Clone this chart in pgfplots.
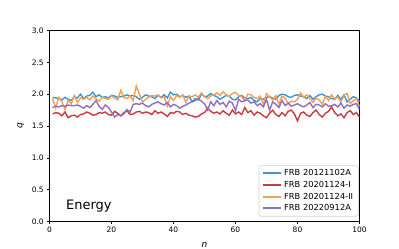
\documentclass[border=0pt]{standalone}
\usepackage{pgfplots}
\usepackage{pgfplotstable}
\pgfplotsset{compat=1.18}
\usepackage{fontspec}
\setmainfont{DejaVu Sans}
\definecolor{cblue}{RGB}{55,150,215}
\definecolor{cred}{RGB}{200,60,65}
\definecolor{corange}{RGB}{240,160,90}
\definecolor{cpurple}{RGB}{145,110,190}
\pgfplotstableread{
n b r o p
1 1.95 1.69 1.93 1.79
2 1.94 1.71 1.78 1.81
3 1.93 1.70 1.95 1.80
4 1.91 1.66 1.88 1.82
5 1.95 1.72 1.76 1.81
6 1.92 1.63 1.90 1.83
7 1.90 1.66 1.85 1.82
8 1.96 1.67 1.98 1.82
9 1.94 1.64 1.87 1.83
10 2.00 1.68 1.94 1.81
11 1.93 1.69 1.92 1.78
12 1.97 1.72 1.95 1.82
13 1.98 1.70 1.91 1.79
14 2.03 1.67 1.97 1.84
15 1.96 1.68 1.93 1.90
16 1.99 1.71 1.89 1.81
17 1.95 1.70 1.95 1.76
18 1.96 1.72 1.93 1.83
19 1.94 1.68 1.92 1.79
20 1.98 1.67 1.97 1.72
21 1.97 1.73 1.94 1.64
22 1.95 1.70 1.91 1.68
23 1.96 1.66 2.06 1.66
24 1.97 1.71 1.95 1.69
25 1.99 1.74 1.93 1.76
26 1.97 1.68 1.97 1.72
27 1.98 1.69 1.90 1.84
28 1.96 1.72 2.13 1.85
29 1.92 1.73 2.00 1.84
30 1.95 1.70 1.88 1.86
31 1.99 1.72 1.92 1.82
32 1.97 1.71 1.95 1.80
33 1.96 1.68 1.98 1.84
34 1.93 1.74 1.97 1.86
35 1.98 1.70 1.99 1.88
36 1.95 1.72 1.94 1.85
37 1.99 1.69 1.96 1.83
38 1.94 1.65 1.81 1.87
39 2.03 1.71 1.96 1.80
40 1.99 1.70 1.90 1.84
41 2.00 1.73 1.98 1.82
42 1.96 1.72 1.95 1.78
43 1.98 1.68 1.99 1.81
44 1.95 1.70 1.87 1.83
45 1.97 1.67 1.97 1.86
46 1.88 1.66 1.96 1.88
47 1.93 1.64 1.99 1.90
48 1.91 1.65 1.95 1.93
49 2.00 1.69 2.02 1.89
50 1.96 1.71 1.96 1.85
51 1.97 1.78 1.93 1.75
52 2.01 1.73 1.97 1.88
53 1.98 1.70 1.99 1.82
54 1.96 1.72 2.02 1.90
55 1.92 1.69 1.98 1.84
56 1.95 1.74 2.04 1.87
57 1.98 1.70 1.99 1.80
58 1.97 1.67 1.97 1.89
59 1.92 1.75 2.01 1.86
60 1.91 1.69 2.03 1.74
61 1.96 1.72 1.98 1.92
62 1.98 1.68 1.96 1.88
63 1.94 1.79 1.90 1.90
64 1.93 1.71 2.00 1.91
65 1.95 1.74 1.99 1.86
66 1.90 1.67 1.95 1.88
67 1.88 1.72 1.93 1.82
68 1.93 1.70 1.97 1.85
69 1.92 1.66 1.84 1.80
70 1.95 1.63 2.01 1.92
71 1.96 1.70 1.96 1.75
72 1.94 1.75 1.91 1.88
73 1.92 1.68 1.98 1.84
74 1.98 1.65 1.84 1.79
75 2.00 1.71 1.97 1.90
76 1.99 1.66 1.94 1.82
77 1.96 1.73 1.85 1.86
78 1.95 1.75 1.89 1.81
79 1.98 1.69 1.88 1.83
80 1.99 1.58 1.92 1.85
81 1.97 1.70 2.02 1.82
82 1.96 1.72 1.95 1.80
83 1.93 1.67 1.99 1.83
84 1.98 1.65 1.93 1.87
85 1.92 1.71 1.87 1.79
86 1.96 1.75 1.94 1.84
87 1.99 1.68 1.91 1.83
88 2.00 1.64 1.84 1.80
89 1.97 1.70 1.97 1.85
90 1.96 1.73 1.90 1.81
91 1.93 1.80 1.99 1.82
92 1.92 1.71 1.92 1.84
93 1.98 1.66 1.96 1.80
94 1.92 1.69 1.87 1.86
95 1.99 1.63 1.98 1.78
96 1.88 1.71 2.01 1.83
97 1.92 1.74 1.85 1.81
98 1.96 1.68 1.90 1.84
99 1.94 1.71 1.93 1.85
100 1.88 1.64 1.80 1.76
}\datatable
\begin{document}
\begin{tikzpicture}
\begin{axis}[
  scale only axis,
  width=310pt, height=191pt,
  xmin=0, xmax=100, ymin=0, ymax=3,
  xtick={0,20,40,60,80,100},
  ytick={0,0.5,1,1.5,2,2.5,3},
  yticklabel style={/pgf/number format/fixed,/pgf/number format/fixed zerofill,/pgf/number format/precision=1},
  /pgf/number format/assume math mode=true,
  tick align=outside,
  major tick length=2.2pt,
  tick style={black, line width=0.6pt},
  axis line style={black, line width=0.8pt},
  xtick pos=bottom, ytick pos=left,
  tick label style={font=\fontsize{7.5}{9}\selectfont},
  xlabel={\textit{n}}, ylabel={\textit{q}},
  label style={font=\fontsize{9}{10.5}\selectfont},
  xlabel style={at={(axis description cs:0.5,0)}, anchor=center, yshift=-23pt},
  ylabel style={at={(axis description cs:-0.093,0.5)}, anchor=center, rotate=0},
  legend style={at={(1,0)}, anchor=south east, xshift=-1pt, yshift=5pt,
    draw=gray!35, line width=0.6pt, rounded corners=2pt, font=\fontsize{8.3}{9.5}\selectfont,
    row sep=0pt, inner xsep=3pt, inner ysep=2pt},
  legend cell align=left,
  legend image code/.code={\draw[#1, line width=2.2pt] (0pt,0pt) -- (18pt,0pt);},
]
\addplot[color=cblue, line width=1.4pt] table[x=n, y=b] {\datatable};
\addlegendentry{FRB 20121102A}
\addplot[color=cred, line width=1.4pt] table[x=n, y=r] {\datatable};
\addlegendentry{FRB 20201124-I}
\addplot[color=corange, line width=1.4pt] table[x=n, y=o] {\datatable};
\addlegendentry{FRB 20201124-II}
\addplot[color=cpurple, line width=1.4pt] table[x=n, y=p] {\datatable};
\addlegendentry{FRB 20220912A}
\node[anchor=base west, inner sep=0pt, font=\fontsize{13}{15}\selectfont] at (axis cs:5.3,0.196) {Energy};
\end{axis}
\pgfresetboundingbox
\path (current axis.south west) ++(-49.5pt,-27.5pt) rectangle ++(399pt,249pt);
\end{tikzpicture}
\end{document}
